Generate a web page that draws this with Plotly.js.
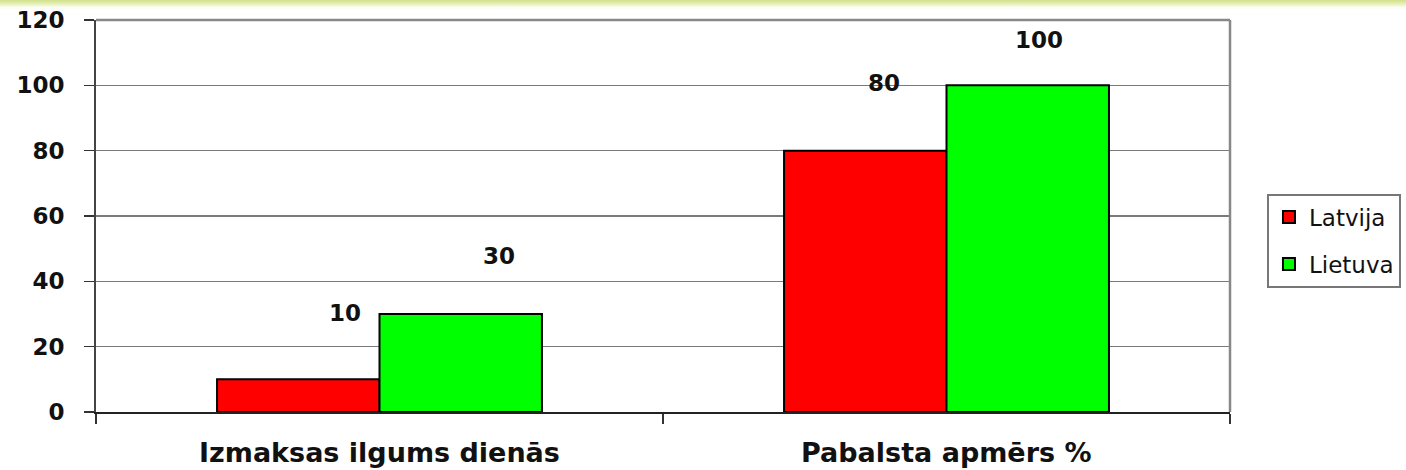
<!DOCTYPE html>
<html>
<head>
<meta charset="utf-8">
<script src="https://cdn.plot.ly/plotly-3.0.1.min.js"></script>
<style>
  html, body { margin: 0; padding: 0; background: #fff; overflow: hidden; }
  #band { position: absolute; left: 0; top: 0; width: 1406px; height: 10px; z-index: 5;
    background: linear-gradient(to bottom, rgba(205,223,130,0.95) 0px, rgba(225,235,170,0.8) 4px, rgba(245,248,225,0.5) 7px, rgba(255,255,255,0) 10px); }
  #chart { width: 1406px; height: 470px; }
</style>
</head>
<body>
<div id="band"></div>
<div id="chart"></div>
<script>
const categories = ["Izmaksas ilgums dienās", "Pabalsta apmērs %"];
const seriesNames = ["Latvija", "Lietuva"];
const latvija = [10, 80];
const lietuva = [30, 100];
const yTicks = [0, 20, 40, 60, 80, 100, 120];

const colors = ["#ff0000", "#00ff00"];
const values = [latvija, lietuva];
const FONT = "DejaVu Sans, Verdana, sans-serif";

const traces = values.map((v, s) => ({
  type: "bar",
  name: seriesNames[s],
  legendgroup: "g" + s,
  x: categories,
  y: v,
  marker: { color: colors[s], line: { color: "#000", width: 2 } },
  hoverinfo: "none"
}));

// label offsets (pixels) relative to bar top, per series and category
const labelDx = [[47, 19], [38, 11]];
const labelDy = [[66, 68], [58, 45]];
const barHalf = 0.1433;
const annotations = [];
values.forEach((v, s) => {
  v.forEach((val, i) => {
    annotations.push({
      x: i + (s === 0 ? -barHalf : barHalf), y: val, xref: "x", yref: "y",
      text: String(val), showarrow: false,
      xshift: labelDx[s][i], yshift: labelDy[s][i],
      font: { family: FONT, size: 23, color: "#111", weight: 700 }
    });
  });
});
categories.forEach((c, i) => {
  annotations.push({
    x: i, y: 0, xref: "x", yref: "paper", yanchor: "middle",
    text: c, showarrow: false, yshift: -40,
    font: { family: FONT, size: 27, color: "#111", weight: 700 }
  });
});

const layout = {
  width: 1406, height: 470,
  margin: { l: 96, r: 176, t: 20, b: 58, autoexpand: false },
  paper_bgcolor: "#fff", plot_bgcolor: "#fff",
  barmode: "group", bargap: 0.427, bargroupgap: 0,
  showlegend: true,
  legend: {
    x: 1.0326, y: 0.557, xanchor: "left", yanchor: "top",
    bgcolor: "#fff", bordercolor: "#777", borderwidth: 2,
    font: { family: FONT, size: 23, color: "#111" },
    tracegroupgap: 14, itemwidth: 30
  },
  xaxis: {
    type: "category", range: [-0.5, 1.5],
    showgrid: false, showticklabels: false,
    tickson: "boundaries", ticks: "outside", ticklen: 10, tickwidth: 1.5, tickcolor: "#333",
    showline: true, linecolor: "#222", linewidth: 2, zeroline: false
  },
  yaxis: {
    range: [0, 120], tickvals: yTicks, ticktext: yTicks.map(String),
    ticks: "outside", ticklen: 10, tickwidth: 1.5, tickcolor: "#333",
    ticklabelstandoff: 15,
    tickfont: { family: FONT, size: 23, color: "#111", weight: 700 },
    showgrid: true, gridcolor: "#7a7a7a", gridwidth: 1.5,
    showline: true, linecolor: "#444", linewidth: 2, zeroline: false
  },
  shapes: [
    { type: "line", xref: "paper", yref: "paper", x0: 0, x1: 1, y0: 1, y1: 1, line: { color: "#888", width: 2.5 } },
    { type: "line", xref: "paper", yref: "paper", x0: 1, x1: 1, y0: 0, y1: 1, line: { color: "#888", width: 2.5 } }
  ],
  annotations: annotations
};

Plotly.newPlot("chart", traces, layout, { displayModeBar: false, staticPlot: true });
</script>
</body>
</html>
